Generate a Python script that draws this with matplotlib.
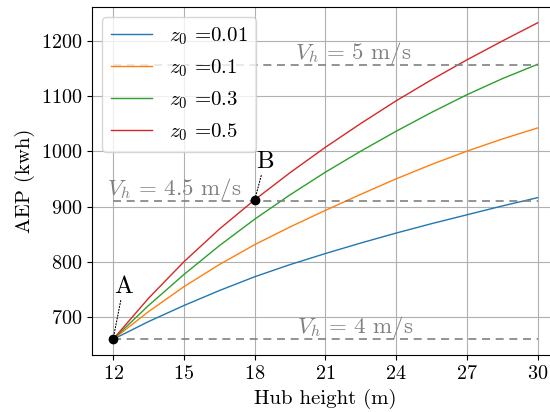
import matplotlib
matplotlib.use('Agg')
import matplotlib.pyplot as plt
import numpy as np

plt.rcParams['font.family'] = 'serif'
plt.rcParams['font.serif'] = ['cmr10']
plt.rcParams['mathtext.fontset'] = 'cm'
plt.rcParams['axes.formatter.use_mathtext'] = True

# hub heights (m) and AEP (kwh)
heights = [12, 13.5, 15, 16.5, 18, 19.5, 21, 22.5, 24, 25.5, 27, 28.5, 30]
aep_001 = [660, 692, 721, 748, 773, 795, 815, 834, 852, 869, 885, 901, 916]
aep_01 = [660, 710, 755, 795, 831, 863, 893, 922, 950, 976, 1000, 1022, 1042]
aep_03 = [660, 721, 777, 829, 877, 921, 962, 1000, 1036, 1070, 1102, 1131, 1157]
aep_05 = [660, 734, 800, 859, 912, 961, 1007, 1050, 1091, 1129, 1165, 1199, 1232]
roughness = [0.01, 0.1, 0.3, 0.5]

ref_levels = [660, 910, 1155]
ref_speeds = ['4', '4.5', '5']
ref_text_x = [19.8, 11.75, 19.72]
ref_text_y = [671, 920, 1166]

fig = plt.figure(figsize=(5.5, 4.12), dpi=100)
ax = fig.add_axes([0.167, 0.138, 0.849, 0.845])

for z, a in zip(roughness, [aep_001, aep_01, aep_03, aep_05]):
    ax.plot(heights, a, lw=1, label='$z_0$ =' + str(z))

for lvl, v, tx, ty in zip(ref_levels, ref_speeds, ref_text_x, ref_text_y):
    ax.plot([heights[0], heights[-1]], [lvl, lvl], color='gray', lw=1.2,
            ls=(0, (4.8, 3.4)))
    ax.text(tx, ty, '$V_h\\,=\\,' + v + '$ m/s', color='gray', fontsize=16.5,
            va='baseline', ha='left')

ax.plot([12, 18], [660, 911], 'o', color='k', ms=6)
ax.annotate('A', xy=(12, 660), xytext=(12.44, 755), fontsize=18,
            ha='center', va='center',
            arrowprops=dict(arrowstyle='-', ls=':', color='k', lw=0.8, shrinkA=0, shrinkB=0))
ax.annotate('B', xy=(18, 911), xytext=(18.44, 981), fontsize=18,
            ha='center', va='center',
            arrowprops=dict(arrowstyle='-', ls=':', color='k', lw=0.8, shrinkA=0, shrinkB=0))

ax.set_xticks([12, 15, 18, 21, 24, 27, 30])
ax.set_yticks([700, 800, 900, 1000, 1100, 1200])
ax.tick_params(labelsize=14.5)
ax.set_xlabel('Hub height (m)', fontsize=15)
ax.set_ylabel('AEP (kwh)', fontsize=15)
ax.grid(True)
ax.legend(loc='upper left', fontsize=15)

fig.savefig('out.png', dpi=100)
